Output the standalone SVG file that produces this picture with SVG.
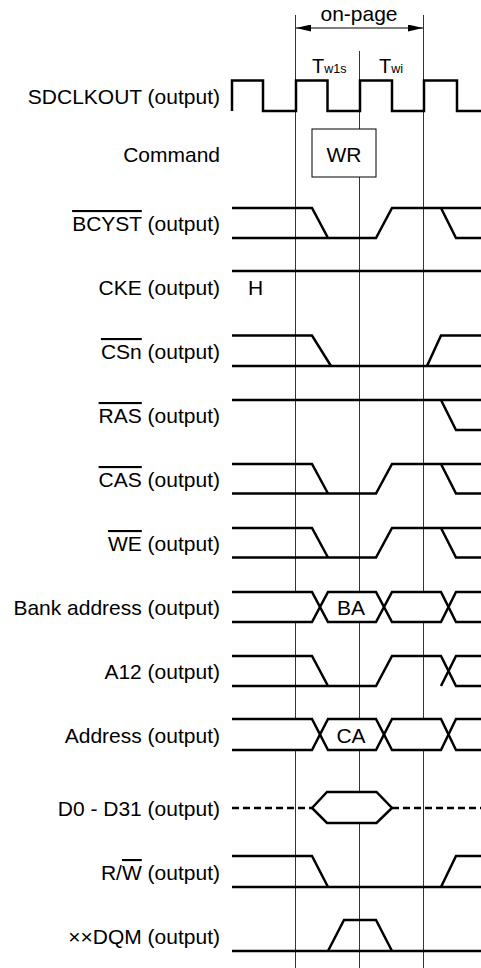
<svg xmlns="http://www.w3.org/2000/svg" width="481" height="968" viewBox="0 0 481 968">
<style>
text{font-family:"Liberation Sans",Arial,sans-serif;font-size:21px;fill:#000}
.lbl{text-anchor:end}
.mid{text-anchor:middle}
.ov{text-decoration:overline}
.grid{stroke:#333;stroke-width:1;fill:none}
.w{stroke:#000;stroke-width:2.5;fill:none;stroke-linejoin:miter;stroke-linecap:butt}
.dash{stroke-dasharray:7 4}
.bg{fill:#fff;stroke:none}
.box{fill:#fff;stroke:#000;stroke-width:1}
</style>
<defs>
<marker id="ah" viewBox="0 0 15 7" refX="15" refY="3.5" markerWidth="15" markerHeight="7" markerUnits="userSpaceOnUse" orient="auto-start-reverse">
<path d="M0,0 L15,3.5 L0,7 z" fill="#000"/>
</marker>
</defs>
<rect width="481" height="968" fill="#fff"/>

<g id="grid">
<line class="grid" x1="295.5" y1="15" x2="295.5" y2="968"/>
<line class="grid" x1="359.5" y1="51" x2="359.5" y2="968"/>
<line class="grid" x1="423.5" y1="15" x2="423.5" y2="968"/>
</g>

<g id="connectors">
<line x1="296" y1="28" x2="423" y2="28" stroke="#000" stroke-width="1" marker-start="url(#ah)" marker-end="url(#ah)"/>
</g>

<g id="header">
<text class="mid" x="359" y="20.5">on-page</text>
<text x="312" y="73"><tspan font-size="20">T</tspan><tspan font-size="12.5">w1s</tspan></text>
<text x="379" y="73"><tspan font-size="20">T</tspan><tspan font-size="12.5">wi</tspan></text>
</g>

<g id="sdclkout">
<text class="lbl" x="220" y="104">SDCLKOUT (output)</text>
<path class="w" d="M232,111 V80.5 H263 V111 H296 V80.5 H327.5 V111 H360 V80.5 H392 V111 H424 V80.5 H457 V111 H481"/>
</g>

<g id="command">
<text class="lbl" x="220" y="162">Command</text>
<rect class="box" x="312" y="129" width="64" height="48"/>
<text class="mid" x="344" y="162">WR</text>
</g>

<g id="bcyst">
<text class="lbl" x="220" y="231"><tspan class="ov">BCYST</tspan> (output)</text>
<path class="w" d="M232,208 H312 L328,238"/>
<path class="w" d="M232,238 H376 L392,208 H481"/>
<path class="w" d="M441,208 L456,238 H481"/>
</g>

<g id="cke">
<text class="lbl" x="220" y="295">CKE (output)</text>
<text x="248" y="295">H</text>
<path class="w" d="M232,271 H481"/>
</g>

<g id="csn">
<text class="lbl" x="220" y="359"><tspan class="ov">CSn</tspan> (output)</text>
<path class="w" d="M232,335.5 H312 L331,366"/>
<path class="w" d="M232,366 H481"/>
<path class="w" d="M427,366 L441,335.5 H481"/>
</g>

<g id="ras">
<text class="lbl" x="220" y="423"><tspan class="ov">RAS</tspan> (output)</text>
<path class="w" d="M232,400 H481"/>
<path class="w" d="M441,400 L456,430 H481"/>
</g>

<g id="cas">
<text class="lbl" x="220" y="487"><tspan class="ov">CAS</tspan> (output)</text>
<path class="w" d="M232,464 H312 L328,493.5"/>
<path class="w" d="M232,493.5 H376 L392,464 H481"/>
<path class="w" d="M441,464 L456,493.5 H481"/>
</g>

<g id="we">
<text class="lbl" x="220" y="551"><tspan class="ov">WE</tspan> (output)</text>
<path class="w" d="M232,528 H312 L328,557.5"/>
<path class="w" d="M232,557.5 H376 L392,528 H481"/>
<path class="w" d="M441,528 L456,557.5 H481"/>
</g>

<g id="bank-address">
<text class="lbl" x="220" y="615">Bank address (output)</text>
<rect class="bg" x="232" y="592" width="249" height="30"/>
<path class="w" d="M232,592 H312 L328,622 H376 L392,592 H441 L456,622 H481"/>
<path class="w" d="M232,622 H312 L328,592 H376 L392,622 H441 L456,592 H481"/>
<text class="mid" x="351" y="615">BA</text>
</g>

<g id="a12">
<text class="lbl" x="220" y="679">A12 (output)</text>
<path class="w" d="M232,656 H312 L328,686"/>
<path class="w" d="M232,686 H376 L392,656 H441 L456,686 H481"/>
<path class="w" d="M441,686 L456,656 H481"/>
</g>

<g id="address">
<text class="lbl" x="220" y="743">Address (output)</text>
<rect class="bg" x="232" y="719" width="249" height="31"/>
<path class="w" d="M232,719 H312 L328,750 H376 L392,719 H441 L456,750 H481"/>
<path class="w" d="M232,750 H312 L328,719 H376 L392,750 H441 L456,719 H481"/>
<text class="mid" x="351" y="743">CA</text>
</g>

<g id="d0-d31">
<text class="lbl" x="220" y="816">D0 - D31 (output)</text>
<path class="w dash" d="M232,808 H312"/>
<path class="w dash" d="M392,808 H481"/>
<polygon class="w" fill="#fff" style="fill:#fff" points="312,808 327,792 376.5,792 392,808 376.5,823 327,823"/>
</g>

<g id="rw">
<text class="lbl" x="220" y="880">R/<tspan class="ov">W</tspan> (output)</text>
<path class="w" d="M232,856 H312 L328,887"/>
<path class="w" d="M232,887 H481"/>
<path class="w" d="M441,887 L456,856 H481"/>
</g>

<g id="dqm">
<text class="lbl" x="220" y="944">××DQM (output)</text>
<path class="w" d="M232,951 H481"/>
<path class="w" d="M328,951 L344,920 H376 L392,951"/>
</g>
</svg>
